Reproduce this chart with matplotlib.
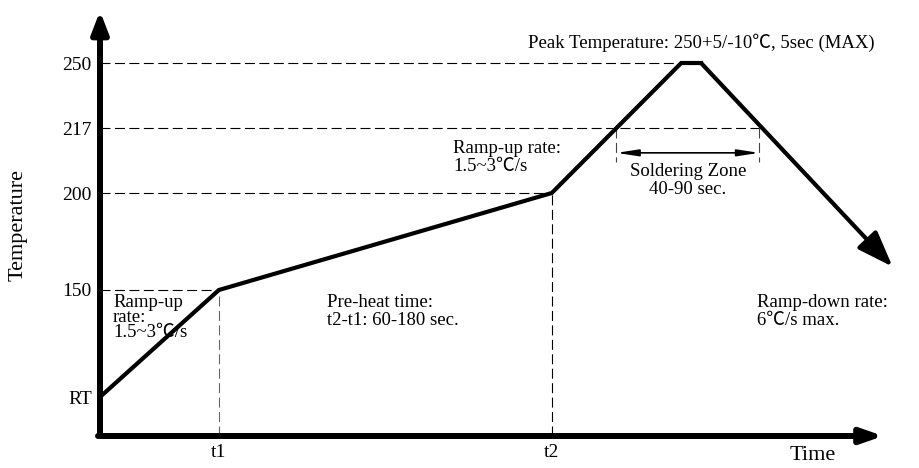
import numpy as np
import matplotlib
matplotlib.use("Agg")
import matplotlib.pyplot as plt

plt.rcParams['font.family'] = ['Liberation Serif', 'Noto Sans CJK SC', 'DejaVu Sans']

# Profil de refusion (schéma)
profile_time = [0, 90, 342, 440, 455, 600]
profile_temp = [25, 150, 200, 250, 250, 162]

# Niveaux repérés en pointillés et leur fin sur l'axe du temps
levels = [150, 200, 217, 250]
level_ends = [90, 342, 499, 440]

ytick_vals = [25, 150, 200, 217, 250]
ytick_labels = ['RT', '150', '200', '217', '250']
xtick_vals = [90, 342]
xtick_labels = ['t1', 't2']

zone_start, zone_end = 391, 499

# échelle non linéaire (schéma) : température -> position
scale_temp = [0, 25, 150, 200, 217, 250, 300]
scale_pos = [0, 39, 146, 243, 308, 373, 425]


def fwd(t):
    return np.interp(t, scale_temp, scale_pos)


def inv(p):
    return np.interp(p, scale_pos, scale_temp)


W, H = 919, 468
fig = plt.figure(figsize=(W / 100, H / 100), dpi=100)
ax = fig.add_axes([100 / W, 32 / H, 819 / W, 425 / H])
ax.set_xlim(0, 620)
ax.set_yscale('function', functions=(fwd, inv))
ax.set_ylim(0, 300)
for s in ax.spines.values():
    s.set_visible(False)

ax.set_yticks(ytick_vals, labels=ytick_labels)
ax.set_xticks(xtick_vals, labels=xtick_labels)
ax.tick_params(length=0, labelsize=14)
ax.tick_params(axis='y', pad=6)
ax.tick_params(axis='x', pad=6)
ax.minorticks_off()

# pointillés
for lev, end in zip(levels, level_ends):
    ax.plot([0, end], [lev, lev], color='k', lw=0.8, ls=(0, (9, 4)))
ax.plot([xtick_vals[0]] * 2, [0, 150], color='#666666', lw=0.8, ls=(0, (9, 4)))
ax.plot([xtick_vals[1]] * 2, [0, 200], color='k', lw=0.8, ls=(0, (9, 4)))
for xz in (zone_start, zone_end):
    ax.plot([xz, xz], [217, 208], color='#444444', lw=0.8, ls=(0, (9, 4)))
ax.annotate('', xy=(zone_end, 210.5), xytext=(zone_start, 210.5),
            arrowprops=dict(arrowstyle='<|-|>,head_length=1.3,head_width=0.2',
                            mutation_scale=10, lw=1.2, color='k',
                            shrinkA=0, shrinkB=0))

# axes avec flèches
ax.annotate('', xy=(0, 300), xytext=(0, 0),
            arrowprops=dict(arrowstyle='-|>,head_length=1.3,head_width=0.5',
                            mutation_scale=10, lw=4.3, color='k',
                            shrinkA=0, shrinkB=0), annotation_clip=False)
ax.annotate('', xy=(593, 0), xytext=(-1.5, 0),
            arrowprops=dict(arrowstyle='-|>,head_length=1.3,head_width=0.45',
                            mutation_scale=10, lw=4.3, color='k',
                            shrinkA=0, shrinkB=0), annotation_clip=False)

# courbe
ax.plot(profile_time[:-1], profile_temp[:-1], color='k', lw=3,
        solid_joinstyle='miter', solid_capstyle='projecting', clip_on=False)
ax.annotate('', xy=(profile_time[-1], profile_temp[-1]),
            xytext=(profile_time[-2], profile_temp[-2]),
            arrowprops=dict(arrowstyle='-|>,head_length=2.2,head_width=0.8',
                            mutation_scale=10, lw=3, color='k',
                            shrinkA=0, shrinkB=0), annotation_clip=False)


def px(x, y):
    return x / W, 1 - y / H


fs = 13.5
fig.text(*px(18, 225), 'Temperature', rotation=90, fontsize=16,
         ha='center', va='center')
fig.text(*px(813, 455), 'Time', fontsize=16, ha='center', va='center')
fig.text(*px(113, 294), 'Ramp-up\nrate:\n1.5~3℃/s', fontsize=fs,
         ha='left', va='top', linespacing=0.85)
fig.text(*px(327, 294), 'Pre-heat time:\nt2-t1: 60-180 sec.', fontsize=fs,
         ha='left', va='top', linespacing=1.05)
fig.text(*px(453, 140), 'Ramp-up rate:\n1.5~3℃/s', fontsize=fs,
         ha='left', va='top', linespacing=1.05)
fig.text(*px(688, 163), 'Soldering Zone\n40-90 sec.', fontsize=fs,
         ha='center', va='top', linespacing=1.05)
fig.text(*px(528, 43), 'Peak Temperature: 250+5/-10℃, 5sec (MAX)',
         fontsize=fs, ha='left', va='center')
fig.text(*px(757, 294), 'Ramp-down rate:\n6℃/s max.', fontsize=fs,
         ha='left', va='top', linespacing=1.05)

fig.savefig('out.png', dpi=100)
